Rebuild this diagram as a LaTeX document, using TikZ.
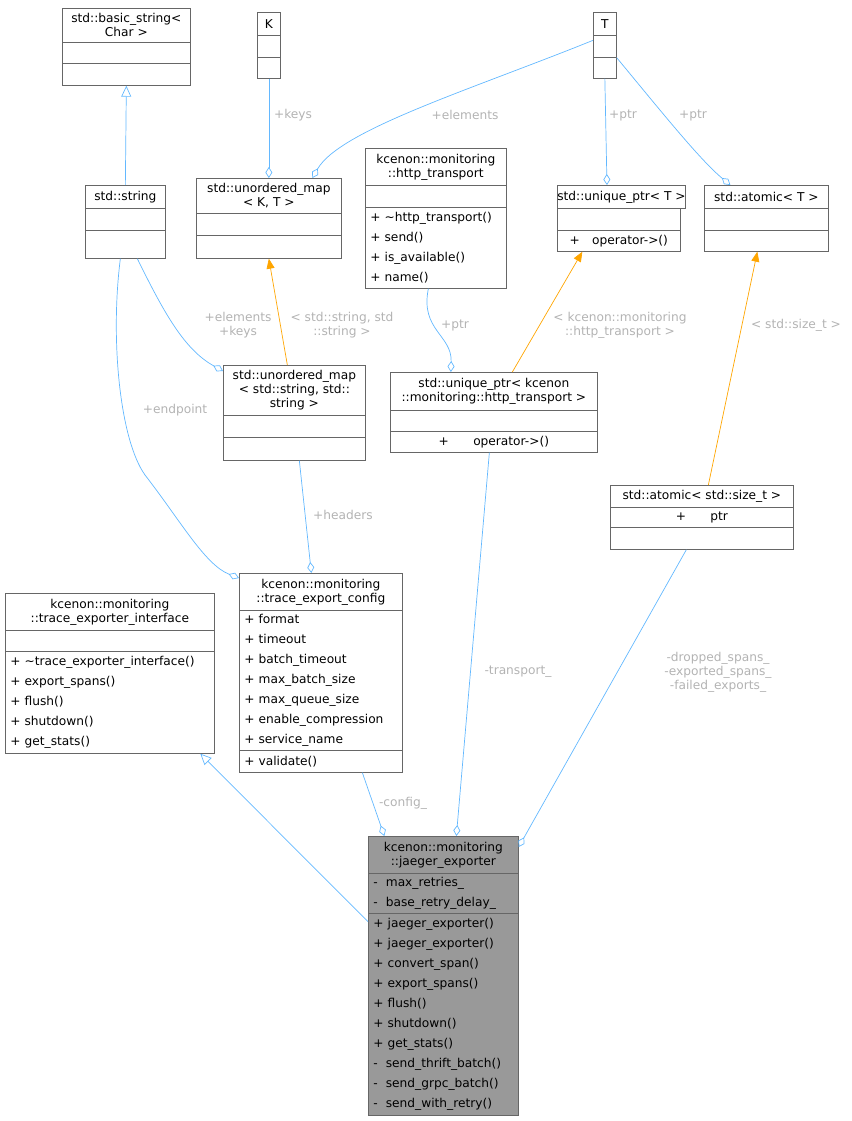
\documentclass[tikz,border=0pt]{standalone}
\usepackage{fontspec}
\setmainfont{DejaVu Sans}
\usetikzlibrary{arrows.meta,positioning}
\definecolor{boxline}{HTML}{666666}
\definecolor{edgeblue}{HTML}{63B8FF}
\definecolor{edgeorange}{HTML}{FFA500}
\definecolor{lblgray}{HTML}{B3B3B3}
\definecolor{mainfill}{HTML}{999999}
\newcommand\ttlfont{\fontsize{12.2}{14}\selectfont}
\newcommand\memfont{\fontsize{12.2}{20}\selectfont}
\tikzset{
  part/.style={draw=boxline, fill=white, anchor=north west, inner sep=0pt, line width=0.7pt},
  ttl/.style={part, align=center, font=\ttlfont},
  mem/.style={part, align=left, font=\memfont, inner xsep=5pt},
  hot/.style={fill=mainfill},
  ed/.style={draw=edgeblue, line width=0.7pt},
  inst/.style={draw=edgeorange, line width=0.7pt, -{Triangle[length=10pt,width=8pt]}},
  has/.style={ed, -{Diamond[open,length=11pt,width=7pt]}},
  isa/.style={ed, -{Triangle[open,length=11pt,width=10pt]}},
  lbl/.style={text=lblgray, font=\ttlfont, align=center, inner sep=0pt}
}
\begin{document}
\begin{tikzpicture}[x=1pt,y=-1pt]
\useasboundingbox (0,0) rectangle (851,1121);
% classes
\node[ttl, minimum width=128, minimum height=34] (bs1) at (62,8) {std::basic\_string<\\Char >};
\node[part, minimum width=128, minimum height=21] (bs2) at (62,42) {};
\node[part, minimum width=128, minimum height=22] (bs3) at (62,63) {};

\node[ttl, minimum width=23, minimum height=23] (K1) at (257,12) {K};
\node[part, minimum width=23, minimum height=22] (K2) at (257,35) {};
\node[part, minimum width=23, minimum height=21] (K3) at (257,57) {};

\node[ttl, minimum width=23, minimum height=23] (T1) at (593,12) {T};
\node[part, minimum width=23, minimum height=22] (T2) at (593,35) {};
\node[part, minimum width=23, minimum height=21] (T3) at (593,57) {};

\node[ttl, minimum width=80, minimum height=23] (str1) at (85,185) {std::string};
\node[part, minimum width=80, minimum height=22] (str2) at (85,208) {};
\node[part, minimum width=80, minimum height=28] (str3) at (85,230) {};

\node[ttl, minimum width=145, minimum height=35] (ukt1) at (196,178) {std::unordered\_map\\< K, T >};
\node[part, minimum width=145, minimum height=22] (ukt2) at (196,213) {};
\node[part, minimum width=145, minimum height=23] (ukt3) at (196,235) {};

\node[ttl, minimum width=141, minimum height=37] (ht1) at (365,148) {kcenon::monitoring\\::http\_transport};
\node[part, minimum width=141, minimum height=22] (ht2) at (365,185) {};
\node[mem, text width=131, minimum height=81] (ht3) at (365,207) {+ \textasciitilde http\_transport()\\+ send()\\+ is\_available()\\+ name()};

\node[ttl, minimum width=123, minimum height=23] (upt1) at (557,185) {std::unique\_ptr< T >};
\node[part, minimum width=123, minimum height=22] (upt2) at (557,208) {};
\node[ttl, font=\memfont, minimum width=123, minimum height=21] (upt3) at (557,230) {+\quad operator->()};

\node[ttl, minimum width=124, minimum height=23] (atT1) at (704,185) {std::atomic< T >};
\node[part, minimum width=124, minimum height=22] (atT2) at (704,208) {};
\node[part, minimum width=124, minimum height=21] (atT3) at (704,230) {};

\node[ttl, minimum width=142, minimum height=50] (uss1) at (223,365) {std::unordered\_map\\< std::string, std::\\string >};
\node[part, minimum width=142, minimum height=22] (uss2) at (223,415) {};
\node[part, minimum width=142, minimum height=23] (uss3) at (223,437) {};

\node[ttl, minimum width=207, minimum height=38] (upr1) at (390,372) {std::unique\_ptr< kcenon\\::monitoring::http\_transport >};
\node[part, minimum width=207, minimum height=21] (upr2) at (390,410) {};
\node[ttl, font=\memfont, minimum width=207, minimum height=21] (upr3) at (390,431) {+\qquad operator->()};

\node[ttl, minimum width=183, minimum height=22] (asz1) at (610,485) {std::atomic< std::size\_t >};
\node[ttl, font=\memfont, minimum width=183, minimum height=20] (asz2) at (610,507) {+\qquad ptr};
\node[part, minimum width=183, minimum height=22] (asz3) at (610,527) {};

\node[ttl, minimum width=209, minimum height=37] (tei1) at (5,593) {kcenon::monitoring\\::trace\_exporter\_interface};
\node[part, minimum width=209, minimum height=21] (tei2) at (5,630) {};
\node[mem, text width=199, minimum height=102] (tei3) at (5,651) {+ \textasciitilde trace\_exporter\_interface()\\+ export\_spans()\\+ flush()\\+ shutdown()\\+ get\_stats()};

\node[ttl, minimum width=163, minimum height=37] (tec1) at (239,573) {kcenon::monitoring\\::trace\_export\_config};
\node[mem, text width=153, minimum height=140] (tec2) at (239,610) {+ format\\+ timeout\\+ batch\_timeout\\+ max\_batch\_size\\+ max\_queue\_size\\+ enable\_compression\\+ service\_name};
\node[mem, text width=153, minimum height=22] (tec3) at (239,750) {+ validate()};

\node[ttl, hot, minimum width=150, minimum height=37] (je1) at (368,836) {kcenon::monitoring\\::jaeger\_exporter};
\node[mem, hot, text width=140, minimum height=40] (je2) at (368,873) {-\ \ max\_retries\_\\-\ \ base\_retry\_delay\_};
\node[mem, hot, text width=140, minimum height=202] (je3) at (368,913) {+ jaeger\_exporter()\\+ jaeger\_exporter()\\+ convert\_span()\\+ export\_spans()\\+ flush()\\+ shutdown()\\+ get\_stats()\\-\ \ send\_thrift\_batch()\\-\ \ send\_grpc\_batch()\\-\ \ send\_with\_retry()};

% connectors
\draw[isa] (str1.north) -- (bs3.south);
\draw[has] (K3.south) -- (ukt1.north);
\draw[has] ([yshift=6]T2.west) .. controls (470,90) and (340,130) .. ([xshift=43.5]ukt1.north);
\draw[has] (T3.south) -- ([xshift=-14.5]upt1.north);
\draw[has] (T2.south east) .. controls (660,110) and (700,160) .. ([xshift=-36]atT1.north);
\draw[inst] ([xshift=-7]uss1.north) -- (ukt3.south);
\draw[has] ([xshift=12]str3.south) .. controls (165,315) and (185,350) .. ([yshift=-6]uss1.north west);
\draw[has] ([xshift=-5]str3.south) .. controls (110,340) and (120,440) .. (145,475)
  .. controls (180,520) and (205,565) .. ([yshift=-5]tec1.north west);
\draw[has] ([xshift=-7.5]ht3.south) .. controls (420,330) and (452,335) .. ([xshift=-43]upr1.north);
\draw[inst] ([xshift=18.5]upr1.north) -- ([xshift=-36.5]upt3.south);
\draw[inst] ([xshift=6.5]asz1.north) -- ([xshift=-9]atT3.south);
\draw[has] ([xshift=5]uss3.south) -- ([xshift=-9.5]tec1.north);
\draw[isa] ([yshift=-8]je2.south west) -- ([xshift=90.5]tei3.south);
\draw[has] ([xshift=41.5]tec3.south) -- ([xshift=-59]je1.north);
\draw[has] ([xshift=-4.5]upr3.south) -- ([xshift=13]je1.north);
\draw[has] ([xshift=-15.5]asz3.south) -- ([yshift=-11]je1.north east);

% labels
\node[lbl] (lkeys) at (293,115) {+keys};
\node[lbl] (lelem) at (465,115) {+elements};
\node[lbl] (lptr1) at (623,115) {+ptr};
\node[lbl] (lptr2) at (693,115) {+ptr};
\node[lbl] (lss) at (342,325) {< std::string, std\\::string >};
\node[lbl] (lek) at (238,325) {+elements\\+keys};
\node[lbl] (lend) at (175,410) {+endpoint};
\node[lbl] (lptr3) at (455,325) {+ptr};
\node[lbl] (lht) at (620,325) {< kcenon::monitoring\\::http\_transport >};
\node[lbl] (lsz) at (796,325) {< std::size\_t >};
\node[lbl] (lhead) at (343,515) {+headers};
\node[lbl] (lcfg) at (403,803) {-config\_};
\node[lbl] (ltr) at (518,672) {-transport\_};
\node[lbl] (lspans) at (718,672) {-dropped\_spans\_\\-exported\_spans\_\\-failed\_exports\_};
\end{tikzpicture}
\end{document}
